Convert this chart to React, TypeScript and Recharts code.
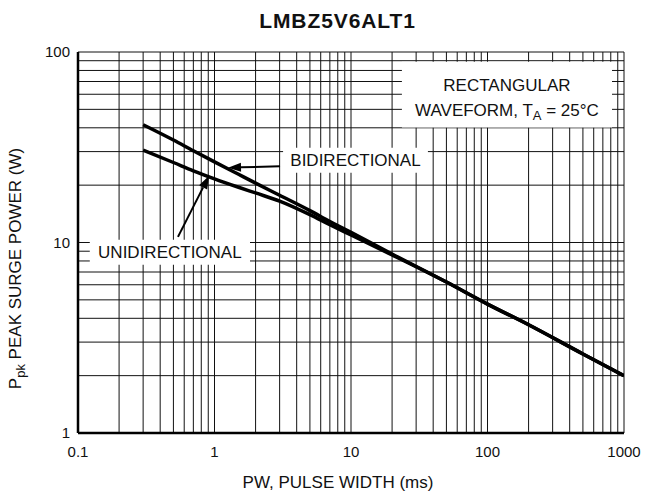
import { LineChart, Line, XAxis, YAxis, CartesianGrid, ReferenceArea, ReferenceLine } from 'recharts'

const pulseWidth = [0.3, 0.5, 0.7, 1, 1.5, 2, 3, 5, 7, 10, 20, 50, 100, 200, 500, 1000]
const bidirectional = [41.5, 34.5, 30.3, 26.5, 22.8, 20.5, 17.7, 14.7, 12.9, 11.3, 8.7, 6.2, 4.75, 3.7, 2.6, 2]
const unidirectional = [30.5, 26.3, 23.8, 21.6, 19.5, 18.2, 16.5, 14.0, 12.4, 10.95, 8.6, 6.2, 4.75, 3.7, 2.6, 2]

const xTicks = [
  0.1, 0.2, 0.3, 0.4, 0.5, 0.6, 0.7, 0.8, 0.9,
  1, 2, 3, 4, 5, 6, 7, 8, 9,
  10, 20, 30, 40, 50, 60, 70, 80, 90,
  100, 200, 300, 400, 500, 600, 700, 800, 900, 1000,
]
const yTicks = [1, 2, 3, 4, 5, 6, 7, 8, 9, 10, 20, 30, 40, 50, 60, 70, 80, 90, 100]
const xLabels = [0.1, 1, 10, 100, 1000]
const yLabels = [1, 10, 100]

const data = pulseWidth.map((pw, i) => ({ pw, bi: bidirectional[i], uni: unidirectional[i] }))

const FONT = '"Liberation Sans", Arial, Helvetica, sans-serif'

function Arrow(props: any) {
  const { x1, y1, x2, y2 } = props
  const dx = x2 - x1
  const dy = y2 - y1
  const len = Math.sqrt(dx * dx + dy * dy)
  const ux = dx / len
  const uy = dy / len
  const hl = 13
  const hw = 4.5
  const bx = x2 - ux * hl
  const by = y2 - uy * hl
  return (
    <g>
      <line x1={x1} y1={y1} x2={bx} y2={by} stroke="#000" strokeWidth={2} />
      <polygon
        points={`${x2},${y2} ${bx - uy * hw},${by + ux * hw} ${bx + uy * hw},${by - ux * hw}`}
        fill="#000"
      />
    </g>
  )
}

function XTick(props: any) {
  const { x, y, payload } = props
  if (!xLabels.includes(payload.value)) return null
  return (
    <text x={x} y={y + 16} textAnchor="middle" fontSize={15} fontFamily={FONT} fill="#111">
      {payload.value}
    </text>
  )
}

function YTick(props: any) {
  const { x, y, payload } = props
  if (!yLabels.includes(payload.value)) return null
  return (
    <text x={x} y={y + 5} textAnchor="end" fontSize={15} fontFamily={FONT} fill="#111">
      {payload.value}
    </text>
  )
}

export default function App() {
  return (
    <div style={{ position: 'absolute', top: 0, left: 0, width: 645, height: 496, fontFamily: FONT }}>
      <div
        style={{
          position: 'absolute',
          top: 9,
          left: 0,
          width: 675,
          textAlign: 'center',
          fontSize: 21,
          fontWeight: 'bold',
          letterSpacing: 0.9,
          color: '#111',
          zIndex: 2,
        }}
      >
        LMBZ5V6ALT1
      </div>
      <LineChart width={645} height={496} data={data} margin={{ top: 52, right: 21, left: 0, bottom: 0 }}>
        <CartesianGrid stroke="#111" strokeWidth={1} />
        <XAxis
          dataKey="pw"
          type="number"
          scale="log"
          domain={[0.1, 1000]}
          ticks={xTicks}
          interval={0}
          tickLine={false}
          axisLine={{ stroke: '#000', strokeWidth: 2.5 }}
          tick={<XTick />}
          height={63}
          allowDataOverflow
          label={(p: any) => {
            const vb = p.viewBox
            return (
              <text x={vb.x + vb.width / 2 - 13} y={vb.y + 55} textAnchor="middle" fontSize={17} fontFamily={FONT} fill="#111">
                PW, PULSE WIDTH (ms)
              </text>
            )
          }}
        />
        <YAxis
          type="number"
          scale="log"
          domain={[1, 100]}
          ticks={yTicks}
          interval={0}
          tickLine={false}
          axisLine={{ stroke: '#000', strokeWidth: 2.5 }}
          tick={<YTick />}
          width={78}
          allowDataOverflow
          label={(p: any) => {
            const vb = p.viewBox
            const cx = 21
            const cy = vb.y + vb.height / 2 + 26
            return (
              <text
                x={cx}
                y={cy}
                transform={`rotate(-90 ${cx} ${cy})`}
                textAnchor="middle"
                fontSize={17}
                fontFamily={FONT}
                fill="#111"
              >
                P
                <tspan fontSize={13} dy={4}>pk</tspan>
                <tspan dy={-4}> PEAK SURGE POWER (W)</tspan>
              </text>
            )
          }}
        />
        <ReferenceArea
          x1={23.6}
          x2={817}
          y1={40.1}
          y2={88.9}
          fill="#fff"
          fillOpacity={1}
          stroke="none"
          label={(p: any) => {
            const vb = p.viewBox
            const cx = vb.x + vb.width / 2
            return (
              <g fontFamily={FONT} fontSize={17} fill="#111">
                <text x={cx} y={vb.y + 29} textAnchor="middle">RECTANGULAR</text>
                <text x={cx} y={vb.y + 54} textAnchor="middle">
                  WAVEFORM, T
                  <tspan fontSize={13} dy={4}>A</tspan>
                  <tspan dy={-4}> = 25°C</tspan>
                </text>
              </g>
            )
          }}
        />
        <ReferenceArea
          x1={3.18}
          x2={36.6}
          y1={23.2}
          y2={31.4}
          fill="#fff"
          fillOpacity={1}
          stroke="none"
          label={(p: any) => {
            const vb = p.viewBox
            return (
              <text x={vb.x + vb.width / 2} y={vb.y + vb.height / 2 + 6} textAnchor="middle" fontFamily={FONT} fontSize={17} fill="#111">
                BIDIRECTIONAL
              </text>
            )
          }}
        />
        <ReferenceArea
          x1={0.122}
          x2={1.82}
          y1={7.64}
          y2={10.35}
          fill="#fff"
          fillOpacity={1}
          stroke="none"
          label={(p: any) => {
            const vb = p.viewBox
            return (
              <text x={vb.x + vb.width / 2} y={vb.y + vb.height / 2 + 6} textAnchor="middle" fontFamily={FONT} fontSize={17} fill="#111">
                UNIDIRECTIONAL
              </text>
            )
          }}
        />
        <Line type="monotone" dataKey="bi" stroke="#000" strokeWidth={3.5} dot={false} isAnimationActive={false} />
        <Line type="monotone" dataKey="uni" stroke="#000" strokeWidth={3.5} dot={false} isAnimationActive={false} />
        <ReferenceLine segment={[{ x: 3.02, y: 25.1 }, { x: 1.256, y: 24.7 }]} ifOverflow="visible" shape={<Arrow />} />
        <ReferenceLine segment={[{ x: 0.54, y: 10.7 }, { x: 0.912, y: 22.4 }]} ifOverflow="visible" shape={<Arrow />} />
      </LineChart>
    </div>
  )
}
